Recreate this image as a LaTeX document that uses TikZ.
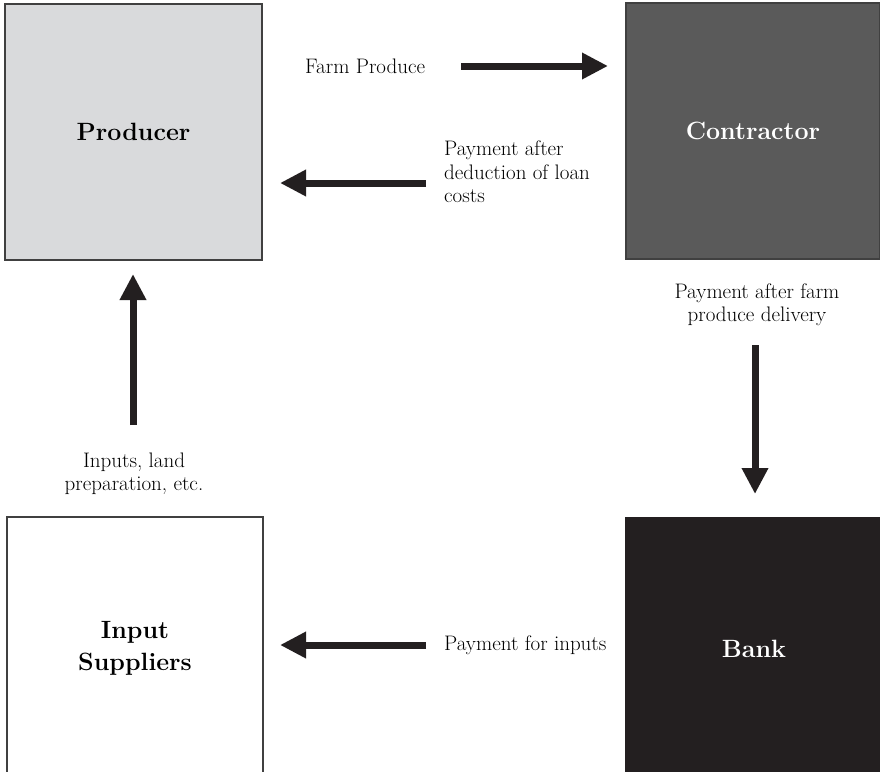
\documentclass[tikz,border=0pt]{standalone}
\usetikzlibrary{arrows.meta}

\definecolor{producergray}{HTML}{D9DADC}
\definecolor{contractorgray}{HTML}{5A5A5A}
\definecolor{bankblack}{HTML}{231F20}
\definecolor{arrowblack}{HTML}{231F20}

\tikzset{
  party/.style={draw=black!75, line width=1.5pt, inner sep=0pt,
    font=\fontsize{25}{32}\selectfont\bfseries, align=center},
  flowlabel/.style={font=\fontsize{21}{23.5}\selectfont, inner sep=0pt},
  flow/.style={draw=arrowblack, line width=7pt,
    -{Triangle[width=25pt,length=26pt]}}
}

\begin{document}
\begin{tikzpicture}[x=1pt, y=-1pt]
  \useasboundingbox (0,0) rectangle (880,771);
  \clip (0,0) rectangle (880,771);

  % Parties
  \node[party, fill=producergray, minimum width=257pt, minimum height=256pt]
    (producer) at (133.5,132) {Producer};
  \node[party, fill=contractorgray, text=white, minimum width=254pt, minimum height=256pt]
    (contractor) at (753,131) {Contractor};
  \node[party, fill=white, minimum width=256pt, minimum height=262pt]
    (suppliers) at (135,648) {Input\\Suppliers};
  \node[party, draw=bankblack, fill=bankblack, text=white, minimum width=256pt, minimum height=262pt]
    (bank) at (754,649) {Bank};

  % Flow labels
  \node[flowlabel, anchor=west] (produce) at (305,66) {Farm Produce};
  \node[flowlabel, anchor=west, align=left] (deduction) at (444,172)
    {Payment after\\deduction of loan\\costs};
  \node[flowlabel, align=center] (delivery) at (757,305)
    {Payment after farm\\produce delivery};
  \node[flowlabel, align=center] (inputs) at (134,474)
    {Inputs, land\\preparation, etc.};
  \node[flowlabel, anchor=west] (payinputs) at (444,645) {Payment for inputs};

  % Arrow ends
  \coordinate (produceA) at (461,66);
  \coordinate (produceB) at (608,66);
  \coordinate (deductA) at (426,183);
  \coordinate (deductB) at (280,183);
  \coordinate (inputsA) at (133,425);
  \coordinate (inputsB) at (133,274);
  \coordinate (deliveryA) at (755,345);
  \coordinate (deliveryB) at (755,494);
  \coordinate (payA) at (426,645);
  \coordinate (payB) at (280,645);

  % Flows
  \draw[flow] (produceA) -- (produceB);
  \draw[flow] (deductA) -- (deductB);
  \draw[flow] (inputsA) -- (inputsB);
  \draw[flow] (deliveryA) -- (deliveryB);
  \draw[flow] (payA) -- (payB);
\end{tikzpicture}
\end{document}
